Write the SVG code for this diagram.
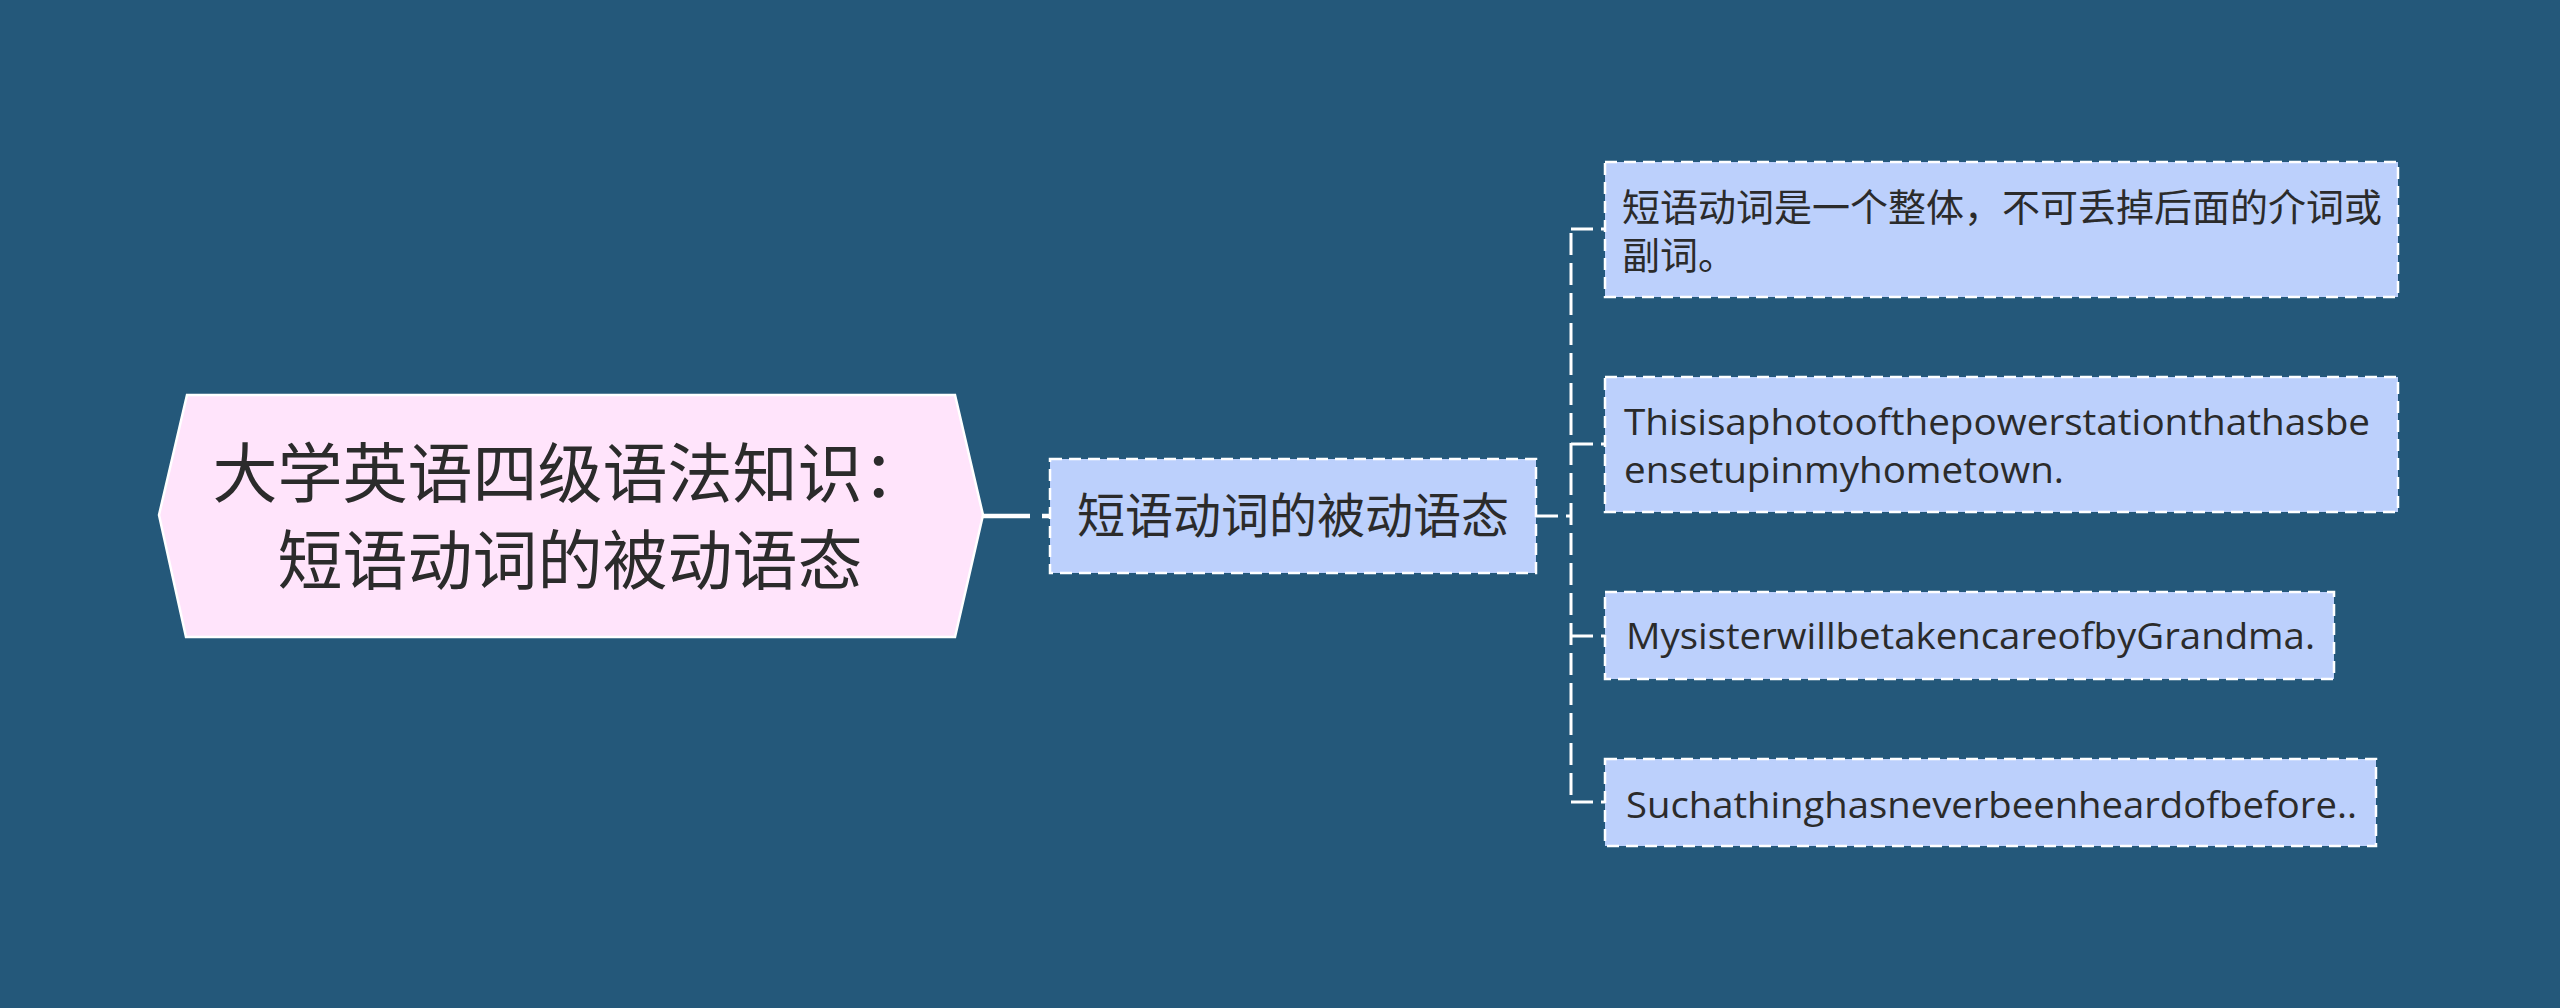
<svg xmlns="http://www.w3.org/2000/svg" width="2560" height="1008" viewBox="0 0 2560 1008">
<style>
.bg{fill:#24587a}
.root{fill:#ffe4fb;stroke:#ffffff;stroke-width:2.5}
.box{fill:#bcd0fc;stroke:#ffffff;stroke-width:2.5;stroke-dasharray:12 7}
.cn{font-family:"Noto Sans CJK SC","Noto Sans",sans-serif;fill:#2b2b2b}
.en{font-family:"Open Sans","Noto Sans CJK SC",sans-serif;fill:#2b2b2b}
.conn{fill:none;stroke:#ffffff;stroke-width:3;stroke-dasharray:22 8}
</style>
<rect class="bg" x="0" y="0" width="2560" height="1008"/>
<g id="connectors">
<path d="M983 516 H1050" fill="none" stroke="#ffffff" stroke-width="4.5" stroke-dasharray="47 12"/>
<path class="conn" d="M1536 516 H1571" stroke-dasharray="14 13"/>
<path class="conn" d="M1571 233 V798"/>
<path class="conn" d="M1571 229 H1605" stroke-dasharray="0 10 12 20"/>
<path class="conn" d="M1571 444 H1605" stroke-dasharray="0 10 12 20"/>
<path class="conn" d="M1571 636 H1605" stroke-dasharray="0 10 12 20"/>
<path class="conn" d="M1571 802 H1605" stroke-dasharray="0 10 12 20"/>
</g>
<g id="root">
<polygon class="root" points="159,515 187,395 955,395 983,515 955,637 186,637"/>
<text class="cn" font-size="65" text-anchor="middle"><tspan x="570" y="497">大学英语四级语法知识：</tspan><tspan x="570" y="584">短语动词的被动语态</tspan></text>
</g>
<g id="mid">
<rect class="box" x="1050" y="459" width="486" height="114"/>
<text class="cn" x="1293" y="533" font-size="48" text-anchor="middle">短语动词的被动语态</text>
</g>
<g id="leaf1">
<rect class="box" x="1605" y="162" width="793" height="135"/>
<text class="cn" font-size="38"><tspan x="1622" y="221">短语动词是一个整体，不可丢掉后面的介词或</tspan><tspan x="1622" y="269">副词。</tspan></text>
</g>
<g id="leaf2">
<rect class="box" x="1605" y="377" width="793" height="135"/>
<text class="en" font-size="37"><tspan x="1624" y="435" textLength="746" lengthAdjust="spacingAndGlyphs">Thisisaphotoofthepowerstationthathasbe</tspan><tspan x="1624" y="483" textLength="440" lengthAdjust="spacingAndGlyphs">ensetupinmyhometown.</tspan></text>
</g>
<g id="leaf3">
<rect class="box" x="1605" y="592" width="729" height="87"/>
<text class="en" x="1626" y="649" font-size="37" textLength="689" lengthAdjust="spacingAndGlyphs">MysisterwillbetakencareofbyGrandma.</text>
</g>
<g id="leaf4">
<rect class="box" x="1605" y="759" width="771" height="87"/>
<text class="en" x="1626" y="818" font-size="37" textLength="731" lengthAdjust="spacingAndGlyphs">Suchathinghasneverbeenheardofbefore..</text>
</g>
</svg>
